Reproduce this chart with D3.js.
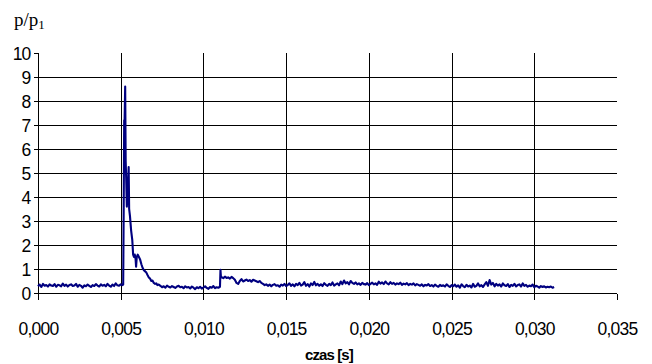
<!DOCTYPE html>
<html>
<head>
<meta charset="utf-8">
<script src="https://d3js.org/d3.v7.min.js"></script>
<style>
  html, body { margin: 0; padding: 0; background: #fff; }
  svg { display: block; }
</style>
</head>
<body>
<svg id="chart" width="652" height="364"></svg>
<script>
// ---- data ----
const xTicks = [0, 0.005, 0.010, 0.015, 0.020, 0.025, 0.030, 0.035];
const yTicks = [0, 1, 2, 3, 4, 5, 6, 7, 8, 9, 10];
const sampleStep = 0.0001; // s, recorder sampling interval

// baseline before shock, starts at t = 0.0000
const seg1Start = 0.0000;
const seg1Values = [0.28,0.35,0.25,0.38,0.30,0.33,0.27,0.36,0.31,0.29,0.37,0.26,0.34,0.32,0.28,0.39,0.30,0.35,0.27,0.33,
  0.36,0.29,0.31,0.38,0.26,0.34,0.30,0.22,0.32,0.28,0.35,0.30,0.25,0.33,0.29,0.37,0.31,0.27,0.36,0.30,
  0.34,0.28,0.38,0.31,0.26,0.35,0.29,0.40,0.32,0.30,0.36,0.33];

// shock peak (times and values)
const peakTimes = [0.00515,0.00518,0.00521,0.00523,0.00527,0.00530,0.00533,0.00537,0.00542,0.00548,0.00551,0.00556,
  0.00563,0.00570,0.00575,0.00580,0.00585,0.00590,0.00593,0.00597,0.00603,0.00610,0.00617,0.00625,0.00632,0.00640,
  0.00648,0.00655,0.00662,0.00670,0.00677,0.00685,0.00692,0.00700,0.00708,0.00715,0.00722,0.00730];
const peakValues = [0.35,3.5,7.2,7.0,8.6,5.5,4.8,3.6,4.2,5.25,3.5,3.2,
  2.6,2.2,1.6,1.5,1.6,1.4,1.1,1.5,1.6,1.5,1.4,1.2,1.05,0.95,
  0.9,0.85,0.75,0.65,0.60,0.50,0.52,0.42,0.38,0.40,0.33,0.35];

// after the peak, starts at t = 0.0074
const seg3Start = 0.0074;
const seg3Values = [0.30,0.24,0.28,0.22,0.31,0.26,0.23,0.29,0.25,0.21,0.27,0.30,0.24,0.26,0.20,0.28,0.23,0.25,0.19,0.27,
  0.22,0.16,0.24,0.20,0.26,0.18,0.23,0.28,0.21,0.17,0.25,0.22,0.29,0.20,0.24,0.22,0.26];

// reflected wave step
const stepTimes = [0.01103, 0.01106];
const stepValues = [0.97, 0.65];

// tail, starts at t = 0.0111
const seg4Start = 0.0111;
const seg4Values = [0.66,0.62,0.68,0.63,0.65,0.60,0.67,0.62,
  0.55,0.42,0.38,0.50,0.58,0.48,0.52,
  0.56,0.50,0.54,0.47,0.55,0.52,0.49,0.45,0.50,0.42,
  0.38,0.33,0.36,0.30,0.35,0.28,0.34,0.37,0.30,0.32,0.26,0.35,0.31,0.38,0.29,
  0.34,0.40,0.30,0.36,0.28,0.38,0.33,0.42,0.31,0.35,0.45,0.30,0.37,0.27,0.40,0.33,0.46,0.32,0.38,0.30,
  0.36,0.29,0.41,0.34,0.30,0.38,0.33,0.44,0.31,0.36,0.40,0.32,0.48,0.37,0.52,0.40,0.45,0.36,0.50,0.42,
  0.38,0.44,0.36,0.40,0.34,0.42,0.37,0.35,0.41,0.33,0.38,0.43,0.36,0.40,0.34,0.47,0.39,0.44,0.37,0.48,
  0.40,0.36,0.45,0.38,0.42,0.35,0.40,0.37,0.43,0.34,0.39,0.36,0.41,0.33,0.38,0.35,0.40,0.32,0.37,0.34,
  0.30,0.36,0.28,0.34,0.31,0.37,0.29,0.33,0.27,0.35,0.30,0.26,0.34,0.29,0.32,0.27,0.36,0.30,0.25,0.33,
  0.28,0.35,0.26,0.32,0.22,0.36,0.29,0.24,0.34,0.27,0.31,0.23,0.38,0.26,0.30,0.40,0.28,0.33,0.25,0.36,
  0.45,0.30,0.54,0.35,0.42,0.28,0.38,0.31,0.36,0.27,0.40,0.32,0.29,0.37,0.25,0.34,0.30,0.38,0.28,0.33,
  0.36,0.27,0.40,0.30,0.34,0.26,0.31,0.28,0.35,0.24,0.30,0.27,0.22,0.29,0.25,0.28,0.23,0.26,0.24,0.27,0.22,0.25];

// ---- build series ----
const sampled = (start, vals) => vals.map((v, i) => ({ t: start + i * sampleStep, v }));
const paired = (ts, vs) => ts.map((t, i) => ({ t, v: vs[i] }));
const series = [].concat(
  sampled(seg1Start, seg1Values),
  paired(peakTimes, peakValues),
  sampled(seg3Start, seg3Values),
  paired(stepTimes, stepValues),
  sampled(seg4Start, seg4Values)
);

// ---- chart ----
const svg = d3.select("#chart");
const x = d3.scaleLinear().domain([0, 0.035]).range([38, 617]);
const y = d3.scaleLinear().domain([0, 10]).range([293, 53]);

const fmt = d => d3.format(".3f")(d).replace(".", ",");

// gridlines
const grid = svg.append("g").attr("shape-rendering", "crispEdges").attr("stroke", "#000").attr("stroke-width", 1);
grid.selectAll("line.h").data(yTicks.filter(d => d > 0 && d < 10)).enter().append("line")
  .attr("x1", x(0)).attr("x2", x(0.035))
  .attr("y1", d => Math.round(y(d)) + 0.5).attr("y2", d => Math.round(y(d)) + 0.5);
grid.selectAll("line.v").data(xTicks.filter(d => d > 0 && d < 0.035)).enter().append("line")
  .attr("y1", y(10)).attr("y2", y(0))
  .attr("x1", d => Math.round(x(d)) + 0.5).attr("x2", d => Math.round(x(d)) + 0.5);

// axes
const xAxis = d3.axisBottom(x).tickValues(xTicks).tickFormat(fmt).tickSize(6).tickPadding(23);
const gx = svg.append("g").attr("transform", `translate(0,${Math.round(y(0)) + 0.5})`).call(xAxis);
const yAxis = d3.axisLeft(y).tickValues(yTicks).tickFormat(d3.format("d")).tickSize(5).tickPadding(3);
const gy = svg.append("g").attr("transform", `translate(${Math.round(x(0)) + 0.5},0)`).call(yAxis);

[gx, gy].forEach(g => {
  g.selectAll("path, line").attr("stroke", "#000").attr("shape-rendering", "crispEdges");
  g.selectAll("text").attr("fill", "#000")
    .style("font-family", "'Liberation Sans', Arial, sans-serif")
    .style("font-size", "17.5px").style("letter-spacing", "-0.8px");
});
gx.select(".domain").attr("d", `M${x(0)},0H${x(0.035)}`);
gy.select(".domain").attr("d", `M0,${y(10)}V${y(0)}`);
gy.selectAll("text").attr("dy", "0.36em");

// data line
const line = d3.line().x(d => x(d.t)).y(d => y(d.v));
svg.append("path").datum(series)
  .attr("fill", "none").attr("stroke", "#000080").attr("stroke-width", 2.1)
  .attr("stroke-linejoin", "round").attr("d", line);

// axis titles
svg.append("text").attr("x", 329).attr("y", 360).attr("text-anchor", "middle")
  .style("font-family", "'Liberation Sans', Arial, sans-serif").style("font-weight", "bold")
  .style("font-size", "15px").style("letter-spacing", "-0.9px").text("czas [s]");

const yl = svg.append("text").attr("x", 14).attr("y", 26)
  .style("font-family", "'Liberation Serif', 'Times New Roman', serif").style("font-size", "19px");
yl.append("tspan").text("p/p");
yl.append("tspan").attr("dy", 3).style("font-size", "13px").text("1");
</script>
</body>
</html>
